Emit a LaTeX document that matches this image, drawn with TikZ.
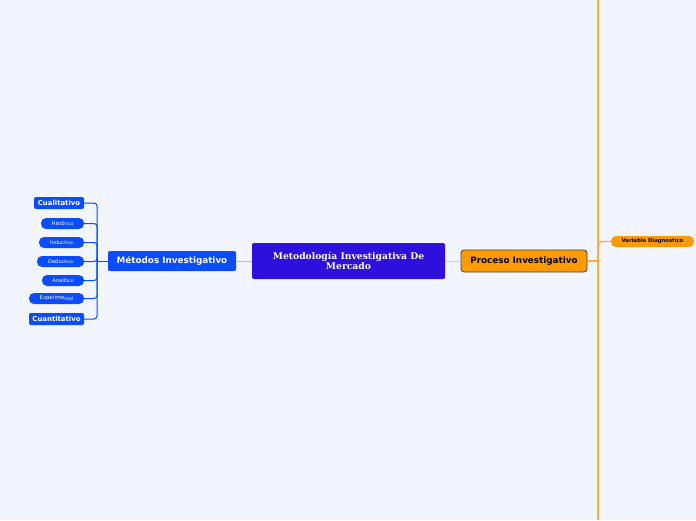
\documentclass[tikz,border=0pt]{standalone}
\usepackage{fontspec}
\setmainfont{DejaVu Serif}
\setsansfont{DejaVu Sans}
\definecolor{bg}{HTML}{F3F5FE}
\definecolor{central}{HTML}{2E0FDC}
\definecolor{blu}{HTML}{0A4CFF}
\definecolor{lblu}{HTML}{A6C1FF}
\definecolor{orng}{HTML}{FF9A00}
\definecolor{lorng}{HTML}{FFC27A}
\definecolor{vline}{HTML}{FFAD33}
\begin{document}
\begin{tikzpicture}[x=1pt,y=-1pt,
  box/.style={inner sep=0pt, minimum width=#1, align=center},
  bluebox/.style={fill=blu, text=white, rounded corners=2pt, font=\sffamily\bfseries},
  pill/.style={fill=blu, text=white, rounded corners=5pt, font=\sffamily\fontsize{5.2}{6}\selectfont},
  bl/.style={draw=blu, line width=1pt, rounded corners=3pt},
]
\useasboundingbox[fill=bg] (0,0) rectangle (696,520);
% vertical orange line
\coordinate (vt) at (598,0);
\coordinate (vb) at (598,520);
\coordinate (jo) at (598,261);
\draw[vline, line width=1.3pt] (vt) -- (vb);
% central
\node[box=193pt, minimum height=36pt, fill=central, text=white, rounded corners=2pt, font=\rmfamily\bfseries\fontsize{9.2}{10}\selectfont] (c) at (348.5,261) {Metodología Investigativa De\\Mercado};
% Metodos
\node[box=128pt, minimum height=20pt, bluebox, font=\sffamily\bfseries\fontsize{8.8}{9}\selectfont] (met) at (172,261) {Métodos Investigativo};
% Proceso
\node[box=126pt, minimum height=22pt, fill=orng, draw=black!75, line width=0.8pt, rounded corners=3pt, font=\sffamily\bfseries\fontsize{8.8}{9}\selectfont] (pro) at (524,261) {Proceso Investigativo};
% Variable
\node[box=83pt, minimum height=11pt, fill=orng, rounded corners=5pt, font=\sffamily\bfseries\fontsize{5.3}{6}\selectfont] (var) at (652.5,241.5) {Variable Diagnostico};
% children
\node[box=50pt, minimum height=12pt, bluebox, font=\sffamily\bfseries\fontsize{6.9}{7}\selectfont] (cual) at (59,203) {Cualitativo};
\node[box=43pt, minimum height=11pt, pill] (hist) at (62.5,223.5) {Histó{\fontsize{4.6}{5}\selectfont\raisebox{-0.8pt}{rico}}};
\node[box=45pt, minimum height=11pt, pill] (induc) at (61.5,242.5) {Induc{\fontsize{4.6}{5}\selectfont\raisebox{-0.8pt}{tivo}}};
\node[box=47pt, minimum height=11pt, pill] (deduc) at (60.5,261.5) {Dedu{\fontsize{4.6}{5}\selectfont\raisebox{-0.8pt}{ctivo}}};
\node[box=42pt, minimum height=11pt, pill] (anal) at (63,280.5) {Analí{\fontsize{4.6}{5}\selectfont\raisebox{-0.8pt}{tico}}};
\node[box=55pt, minimum height=11pt, pill] (exper) at (56.5,298.5) {Experime{\fontsize{4.6}{5}\selectfont\raisebox{-0.8pt}{ntal}}};
\node[box=55pt, minimum height=12pt, bluebox, font=\sffamily\bfseries\fontsize{6.9}{7}\selectfont] (cuant) at (56.5,319) {Cuantitativo};
% connectors
\draw[lblu, line width=1pt] (c.west) -- (met.east);
\draw[lorng, line width=1pt] (c.east) -- (pro.west);
\coordinate (jb) at (97,261);
\draw[bl] (met.west) -- (jb);
\foreach \n in {cual,hist,induc,deduc,anal,exper,cuant}
  \draw[bl] (\n.east) -| (jb);
\draw[vline, line width=1.3pt] (pro.east) -- (jo);
\draw[vline, line width=1.3pt, rounded corners=4pt] (var.west) -| (jo);
\end{tikzpicture}
\end{document}
